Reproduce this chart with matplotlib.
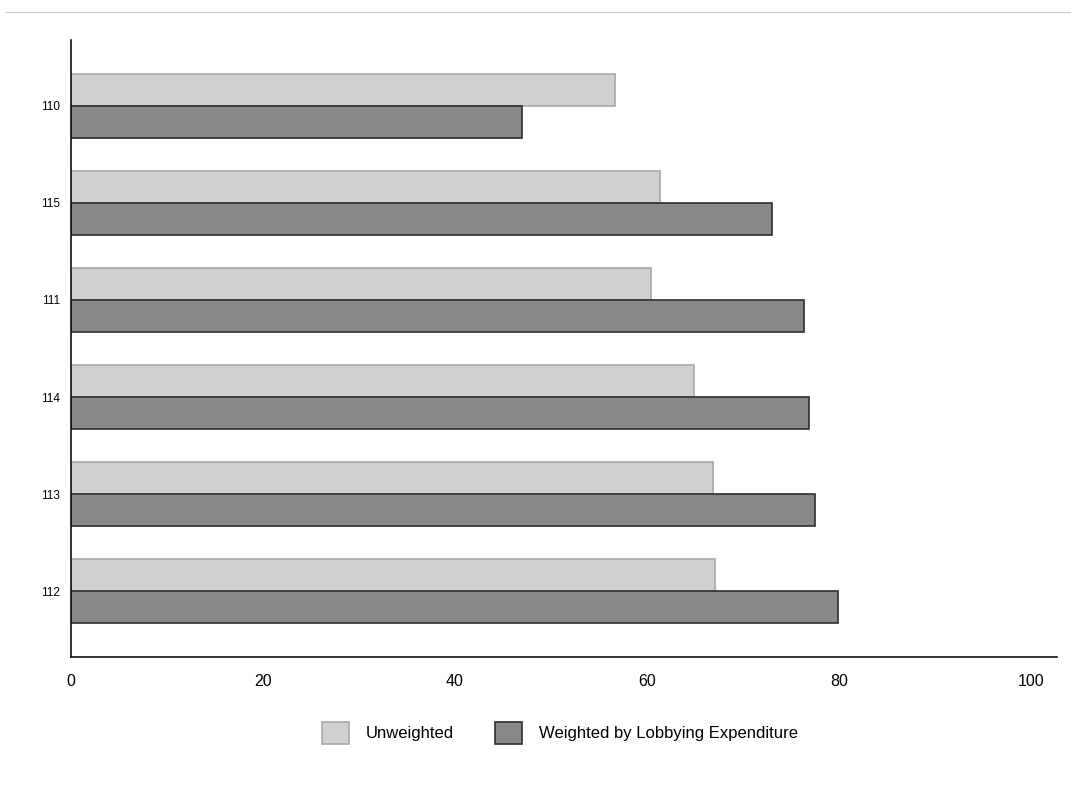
import matplotlib.pyplot as plt
import numpy as np
from matplotlib.patches import Patch
from matplotlib.lines import Line2D

plt.rcParams['font.family'] = ['Liberation Sans', 'DejaVu Sans']

categories = ["110", "115", "111", "114", "113", "112"]
unweighted = [56.7, 61.4, 60.4, 64.9, 66.9, 67.1]
weighted = [47.0, 73.0, 76.4, 76.9, 77.5, 79.9]
xticks = [0, 20, 40, 60, 80, 100]

light = "#d0d0d0"
light_edge = "#a8a8a8"
dark = "#888888"
dark_edge = "#2e2e2e"

W, H = 1071, 786
fig = plt.figure(figsize=(W / 100, H / 100), dpi=100)
ax = fig.add_axes([71 / W, 1 - 657 / H, (1057 - 71) / W, (657 - 40) / H])

y = np.arange(len(categories))
h = 0.33
ax.barh(y - h / 2, unweighted, height=h, color=light, edgecolor=light_edge, linewidth=1.2)
ax.barh(y + h / 2, weighted, height=h, color=dark, edgecolor=dark_edge, linewidth=1.2)

ax.set_xlim(0, 102.7)
ax.set_ylim(len(categories) - 1 + 0.68, -0.68)
ax.set_yticks(y)
ax.set_yticklabels(categories, fontsize=8.5)
ax.set_xticks(xticks)
ax.set_xticklabels([str(t) for t in xticks], fontsize=11.5)
ax.tick_params(axis="x", length=0, pad=12.5)
ax.tick_params(axis="y", length=0, pad=8)

for s in ["top", "right"]:
    ax.spines[s].set_visible(False)
for s in ["left", "bottom"]:
    ax.spines[s].set_linewidth(1.2)
    ax.spines[s].set_color("#111111")

handles = [
    Patch(facecolor=light, edgecolor=light_edge, linewidth=1.2, label="Unweighted"),
    Patch(facecolor=dark, edgecolor=dark_edge, linewidth=1.2, label="Weighted by Lobbying Expenditure"),
]
fig.legend(handles=handles, loc="center", bbox_to_anchor=(560 / W, 1 - 733 / H),
           ncol=2, frameon=False, fontsize=12, handlelength=1.6, handleheight=1.6,
           handletextpad=1.0, columnspacing=2.5)

fig.add_artist(Line2D([6 / W, 1], [1 - 12 / H, 1 - 12 / H], color="#cccccc", linewidth=1))

fig.savefig("out.png", dpi=100)
